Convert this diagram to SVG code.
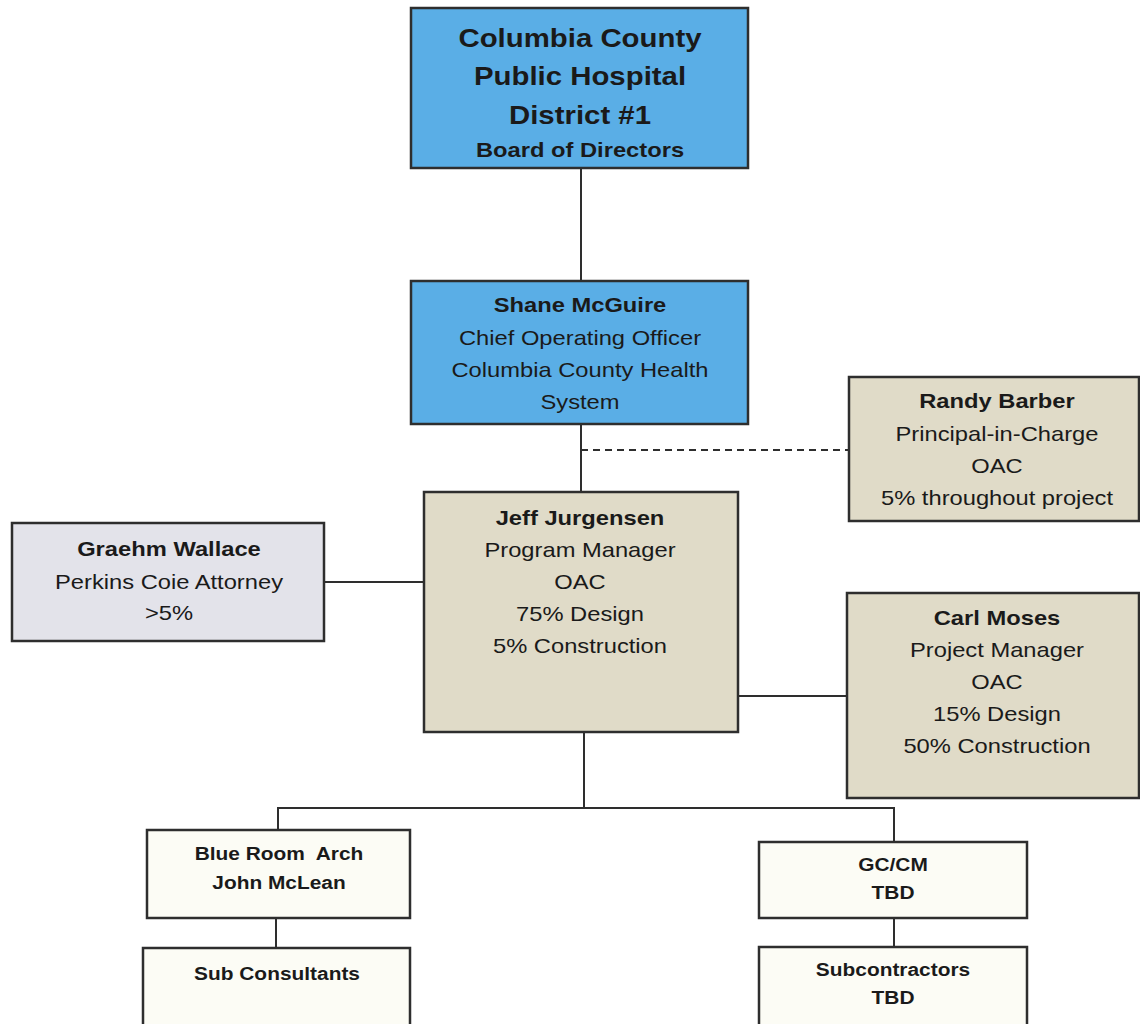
<svg xmlns="http://www.w3.org/2000/svg" width="1140" height="1024" viewBox="0 0 1140 1024">
<style>
.box{stroke:#2e2e2e;stroke-width:2.5}
.blue{fill:#5aaee6}
.beige{fill:#e0dbc8}
.gray{fill:#e3e3ea}
.white{fill:#fcfcf5}
text{font-family:"Liberation Sans",Arial,sans-serif;fill:#1a1a1a;text-anchor:middle}
.b{font-weight:bold}
.big{font-size:26px}
.md{font-size:21px}
.sm{font-size:18.5px}
.conn line,.conn path{stroke:#2e2e2e;stroke-width:2;fill:none}
.dash{stroke-dasharray:7 5}
</style>
<rect width="1140" height="1024" fill="#ffffff"/>
<g class="conn" id="connectors">
<line x1="581" y1="168" x2="581" y2="281"/>
<line x1="581" y1="424" x2="581" y2="492"/>
<line class="dash" x1="581" y1="450" x2="849" y2="450"/>
<line x1="324" y1="582" x2="424" y2="582"/>
<line x1="738" y1="696" x2="847" y2="696"/>
<path d="M584 732 V808 M278 830 V808 H894 V842"/>
<line x1="276" y1="918" x2="276" y2="948"/>
<line x1="894" y1="918" x2="894" y2="947"/>
</g>
<g id="board">
<rect class="box blue" x="411" y="8" width="337" height="160"/>
<g transform="translate(580 0) scale(1.13 1)">
<text class="b big" x="0" y="47">Columbia County</text>
<text class="b big" x="0" y="85">Public Hospital</text>
<text class="b big" x="0" y="124">District #1</text>
<text class="b md" x="0" y="157">Board of Directors</text>
</g>
</g>
<g id="shane">
<rect class="box blue" x="411" y="281" width="337" height="143"/>
<g transform="translate(580 0) scale(1.13 1)">
<text class="b md" x="0" y="312">Shane McGuire</text>
<text class="md" x="0" y="345">Chief Operating Officer</text>
<text class="md" x="0" y="377">Columbia County Health</text>
<text class="md" x="0" y="409">System</text>
</g>
</g>
<g id="randy">
<rect class="box beige" x="849" y="377" width="290" height="144"/>
<g transform="translate(997 0) scale(1.13 1)">
<text class="b md" x="0" y="408">Randy Barber</text>
<text class="md" x="0" y="441">Principal-in-Charge</text>
<text class="md" x="0" y="473">OAC</text>
<text class="md" x="0" y="505">5% throughout project</text>
</g>
</g>
<g id="jeff">
<rect class="box beige" x="424" y="492" width="314" height="240"/>
<g transform="translate(580 0) scale(1.13 1)">
<text class="b md" x="0" y="525">Jeff Jurgensen</text>
<text class="md" x="0" y="557">Program Manager</text>
<text class="md" x="0" y="589">OAC</text>
<text class="md" x="0" y="621">75% Design</text>
<text class="md" x="0" y="653">5% Construction</text>
</g>
</g>
<g id="graehm">
<rect class="box gray" x="12" y="523" width="312" height="118"/>
<g transform="translate(169 0) scale(1.13 1)">
<text class="b md" x="0" y="556">Graehm Wallace</text>
<text class="md" x="0" y="589">Perkins Coie Attorney</text>
<text class="md" x="0" y="620">&gt;5%</text>
</g>
</g>
<g id="carl">
<rect class="box beige" x="847" y="593" width="292" height="205"/>
<g transform="translate(997 0) scale(1.13 1)">
<text class="b md" x="0" y="625">Carl Moses</text>
<text class="md" x="0" y="657">Project Manager</text>
<text class="md" x="0" y="689">OAC</text>
<text class="md" x="0" y="721">15% Design</text>
<text class="md" x="0" y="753">50% Construction</text>
</g>
</g>
<g id="blueroom">
<rect class="box white" x="147" y="830" width="263" height="88"/>
<g transform="translate(279 0) scale(1.13 1)">
<text class="b sm" x="0" y="860" xml:space="preserve">Blue Room  Arch</text>
<text class="b sm" x="0" y="889">John McLean</text>
</g>
</g>
<g id="subconsultants">
<rect class="box white" x="143" y="948" width="267" height="90"/>
<g transform="translate(277 0) scale(1.13 1)">
<text class="b sm" x="0" y="980">Sub Consultants</text>
</g>
</g>
<g id="gccm">
<rect class="box white" x="759" y="842" width="268" height="76"/>
<g transform="translate(893 0) scale(1.13 1)">
<text class="b sm" x="0" y="871">GC/CM</text>
<text class="b sm" x="0" y="899">TBD</text>
</g>
</g>
<g id="subcontractors">
<rect class="box white" x="759" y="947" width="268" height="90"/>
<g transform="translate(893 0) scale(1.13 1)">
<text class="b sm" x="0" y="976">Subcontractors</text>
<text class="b sm" x="0" y="1004">TBD</text>
</g>
</g>
</svg>
